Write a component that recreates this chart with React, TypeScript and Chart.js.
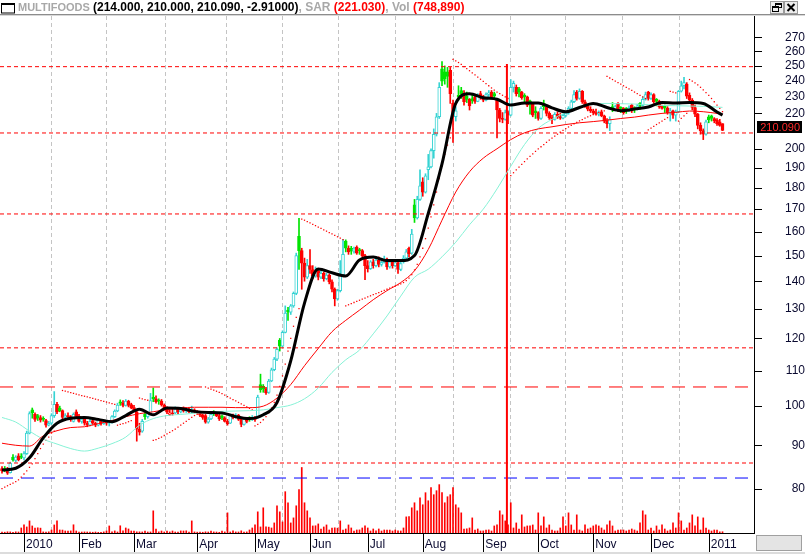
import React, { useEffect, useRef } from 'react';
import { Chart, registerables } from 'chart.js';

Chart.register(...registerables);

// ---------------- data ----------------
const FIRST_DAY = -8; // trading-day index of the first candle (index 0 = first session of 2010)

// [open, high, low, close]
const candles: number[][] = [
  [84.5,85.0,83.5,84.0],[84.5,85.0,83.8,84.2],[84.2,84.8,83.2,83.5],[83.6,86.0,83.5,85.8],[87.2,87.8,86.2,86.5],[86.4,87.5,86.0,87.2],[87.5,88.0,86.3,86.6],[87.4,88.0,86.8,87.1],[87.0,88.5,86.5,88.0],[88.0,93.5,87.8,93.0],
  [93.0,98.5,92.8,98.0],[99.0,99.5,96.8,98.2],[97.8,98.2,96.0,96.5],[97.5,97.8,96.2,96.8],[97.0,97.5,95.8,96.3],[96.8,97.2,96.0,96.5],[96.2,96.5,94.5,95.0],[95.0,96.0,94.8,95.5],[95.5,98.0,95.2,97.5],[97.5,104.0,97.0,100.5],
  [100.5,101.0,98.0,98.5],[99.5,100.0,98.5,98.8],[98.8,99.0,96.5,97.0],[97.0,98.0,96.5,97.5],[97.5,98.2,96.8,97.2],[97.2,97.5,96.0,96.5],[96.0,98.2,95.8,97.8],[98.5,99.0,97.0,97.3],[97.3,97.8,95.8,96.0],[96.0,97.0,95.5,96.6],
  [96.6,96.8,95.0,95.5],[95.5,96.0,94.6,95.0],[95.0,96.5,94.8,96.0],[96.2,96.4,95.2,95.5],[95.5,95.8,94.6,95.0],[95.0,96.5,94.8,96.2],[96.0,96.5,95.0,95.4],[95.4,96.3,95.2,96.0],[96.0,96.2,95.0,95.5],[95.5,96.0,94.8,95.8],
  [95.8,97.5,95.5,97.2],[97.2,99.0,97.0,98.7],[98.7,100.8,98.5,100.3],[101.2,101.7,100.2,100.8],[100.8,101.5,99.8,100.2],[100.2,101.8,100.0,101.4],[101.4,101.6,99.8,100.2],[100.4,100.8,99.3,99.6],[99.6,100.2,98.5,99.0],[98.5,98.8,91.0,94.0],
  [94.0,95.5,92.5,93.2],[93.5,96.5,93.2,96.0],[97.8,98.2,96.5,97.2],[97.2,98.5,96.8,98.2],[98.0,103.5,97.8,101.5],[102.5,105.0,101.2,102.0],[102.0,102.8,100.8,101.2],[101.5,102.0,100.5,101.4],[101.4,101.8,100.0,100.3],[100.3,100.6,99.0,99.4],
  [99.4,99.8,98.0,98.4],[97.8,99.0,97.5,98.2],[98.2,99.2,97.6,97.9],[98.2,99.8,98.0,99.2],[99.2,99.6,98.0,98.5],[98.5,99.5,98.2,99.0],[99.3,99.8,98.4,98.7],[98.7,99.6,98.3,99.2],[99.2,99.4,98.2,98.5],[98.4,100.0,98.2,99.0],
  [99.0,99.3,98.2,98.6],[98.6,98.8,97.8,98.2],[98.2,98.5,97.2,97.6],[97.6,97.9,96.5,97.0],[97.5,97.8,95.5,95.8],[95.8,97.0,95.5,96.6],[96.6,98.2,96.4,97.8],[98.4,98.8,97.5,98.0],[98.0,98.3,97.2,97.5],[97.5,97.8,96.2,96.6],
  [97.4,97.6,96.4,96.9],[96.9,97.2,95.8,96.0],[96.0,96.5,95.0,95.4],[95.5,97.8,95.4,97.5],[97.5,97.9,96.6,97.0],[97.0,98.0,96.8,97.6],[97.6,97.8,96.2,96.5],[96.5,96.8,94.6,95.2],[95.2,96.8,95.0,96.5],[96.5,96.8,95.6,96.0],
  [96.8,97.2,96.0,96.4],[96.4,97.5,96.2,97.0],[97.0,97.2,96.0,96.5],[97.0,103.0,96.8,102.5],[106.0,109.0,103.8,104.5],[105.5,106.0,103.8,104.8],[104.8,105.2,103.2,103.6],[103.8,107.5,103.5,107.0],[107.0,110.8,106.8,110.3],[110.3,114.0,110.0,113.5],
  [113.5,117.0,113.0,116.5],[119.5,120.0,116.0,117.5],[117.5,122.5,117.2,122.0],[122.0,131.0,121.8,128.5],[129.5,130.5,126.0,128.8],[128.8,131.5,128.0,131.0],[131.0,136.0,130.5,135.5],[135.5,151.0,135.0,150.0],[158.0,165.8,144.5,152.0],[152.0,153.0,137.0,147.0],
  [147.0,149.0,140.0,141.5],[141.5,148.5,141.0,146.0],[146.0,152.5,143.0,144.5],[144.5,146.0,141.0,142.0],[142.0,145.5,141.5,144.0],[144.0,144.5,140.5,141.5],[141.5,144.0,141.0,143.0],[143.0,143.5,140.0,141.0],[141.0,143.0,140.5,142.3],[142.3,142.8,139.0,139.8],
  [139.8,140.5,136.0,137.0],[137.0,137.5,131.0,133.5],[133.5,137.0,133.0,136.5],[136.5,148.0,136.0,142.5],[142.5,156.7,142.0,150.5],[156.0,156.5,151.5,153.0],[153.0,154.0,150.5,151.5],[153.0,153.8,150.5,151.8],[151.8,153.5,151.0,152.8],[153.5,154.0,150.5,151.0],
  [152.5,153.0,150.5,152.0],[152.0,152.5,149.5,150.0],[150.0,150.5,140.6,146.0],[146.0,148.0,143.5,144.8],[144.8,148.0,144.5,147.5],[147.5,148.5,145.0,146.0],[146.0,149.0,145.5,148.2],[148.2,149.5,145.5,146.5],[146.5,148.0,145.8,147.3],[147.3,149.8,147.0,148.2],
  [148.2,149.0,144.5,145.5],[145.5,148.0,145.0,147.5],[147.5,148.5,145.0,146.0],[146.0,147.8,145.5,147.2],[147.2,147.5,143.0,144.5],[144.5,147.5,144.0,146.8],[147.5,150.0,147.0,149.0],[149.0,152.5,148.5,151.5],[153.0,153.5,149.5,150.8],[151.0,161.0,150.5,159.0],
  [172.0,174.5,164.0,166.0],[166.0,176.0,165.5,174.5],[174.5,189.0,174.0,181.0],[183.0,185.0,176.0,178.0],[178.0,187.0,177.5,186.0],[189.0,197.0,184.0,190.5],[190.5,200.0,190.0,199.0],[199.0,211.0,195.0,208.0],[208.0,220.0,207.0,218.0],[218.0,239.0,217.0,236.0],
  [248.0,253.0,237.0,240.0],[246.0,250.0,238.0,241.5],[246.0,249.0,236.0,243.0],[247.0,249.0,226.0,232.0],[226.0,228.0,203.5,218.0],[218.0,224.0,215.5,221.5],[231.0,237.0,228.0,230.0],[234.0,236.0,229.0,231.5],[232.0,234.0,225.0,227.0],[230.5,233.0,226.5,228.5],
  [228.5,229.0,222.0,224.5],[229.0,232.0,226.0,227.5],[230.0,231.0,226.0,227.2],[227.2,232.0,227.0,231.0],[232.0,233.5,228.5,230.0],[230.0,231.0,227.0,228.0],[228.0,232.5,227.5,231.5],[231.5,234.0,230.0,232.5],[233.0,234.0,229.0,230.0],[232.0,233.0,229.5,230.5],
  [228.0,229.0,206.0,222.0],[222.0,223.0,215.0,217.0],[217.0,220.5,214.5,216.5],[216.5,222.0,216.0,220.5],[220.5,221.5,214.0,219.0],[219.0,241.0,218.5,236.0],[236.0,240.0,233.0,238.5],[236.0,237.5,230.5,232.0],[235.0,236.0,230.0,233.0],[233.0,233.5,228.5,229.5],
  [231.0,232.0,226.5,230.0],[230.0,230.5,224.0,225.0],[227.5,228.0,219.5,226.0],[226.0,226.5,218.0,219.0],[221.5,224.0,217.0,220.5],[220.5,221.0,216.0,217.0],[217.0,224.0,216.5,223.0],[226.0,228.0,222.0,224.0],[224.0,224.5,218.5,220.0],[220.0,221.0,216.5,217.5],
  [217.5,219.0,214.0,216.5],[216.5,220.5,216.0,219.5],[219.5,221.0,217.0,218.0],[218.0,220.0,216.5,217.2],[217.2,219.5,216.8,218.8],[218.8,221.0,218.0,220.2],[220.2,224.0,219.5,223.0],[223.0,228.0,222.5,227.0],[227.0,234.0,226.5,231.5],[233.0,234.0,228.0,229.0],
  [229.0,235.0,228.5,233.5],[233.5,234.0,226.0,227.0],[227.0,228.0,223.5,224.5],[224.5,225.0,221.5,222.5],[222.5,224.0,220.5,221.5],[221.5,222.5,219.5,220.5],[220.5,222.5,219.0,219.5],[219.5,221.5,218.5,221.0],[221.0,222.0,218.0,218.6],[218.6,219.0,214.5,215.5],
  [215.5,217.0,211.5,214.0],[214.0,218.0,210.0,216.5],[224.0,226.5,221.0,222.5],[222.5,225.0,221.5,224.0],[226.0,226.5,221.0,222.0],[223.5,224.0,220.5,223.0],[223.0,223.5,219.5,220.5],[223.0,223.5,220.0,221.5],[221.5,224.5,221.0,223.5],[225.0,225.5,220.5,221.5],
  [223.5,224.0,220.5,222.5],[222.5,225.5,222.0,224.5],[226.0,226.5,222.5,224.8],[224.8,230.0,224.5,228.5],[228.5,233.0,228.0,231.5],[233.0,233.5,228.0,229.0],[229.0,232.5,228.5,231.5],[231.5,232.0,226.0,227.0],[228.5,229.0,224.5,227.2],[227.2,228.0,223.0,224.0],
  [224.0,225.0,222.5,223.0],[224.5,225.0,220.5,223.2],[223.2,224.0,219.5,220.5],[220.5,223.0,215.5,221.5],[221.5,222.0,217.0,219.0],[219.0,222.0,215.5,221.0],[221.0,234.0,220.5,233.5],[233.5,240.0,233.0,237.0],[237.0,242.5,235.0,239.0],[238.0,239.0,229.0,230.5],
  [231.0,232.5,226.0,228.0],[228.0,229.0,222.0,223.5],[223.5,225.0,218.0,219.5],[219.5,220.0,211.0,213.0],[213.0,214.5,208.0,210.0],[210.0,211.0,205.0,208.0],[208.0,216.0,207.5,215.0],[218.0,219.0,214.5,216.2],[218.5,219.0,215.5,217.0],[217.0,217.5,214.5,215.8],
  [216.0,217.0,213.0,214.0],[215.0,216.5,212.5,213.0],[214.0,214.0,210.0,210.09],
];

// volume, thousands of shares
const volumes: number[] = [
  600,480,720,650,420,700,610,3000,4800,3600,
  7200,4200,3000,3100,2900,650,560,700,1800,4800,
  7300,1800,1750,1200,1150,1250,4900,1200,620,580,
  640,600,560,450,600,420,380,650,1200,4200,
  650,1250,600,4300,1300,3000,2400,1200,1100,700,
  680,620,1200,600,640,13200,2400,700,1200,620,
  1150,640,1200,600,620,1250,1200,1300,600,7200,
  640,500,620,450,700,600,1200,640,580,420,
  1200,650,12000,600,1250,640,620,1300,600,650,
  1800,3000,4800,12600,3600,15000,3700,3500,3000,6000,
  16200,12600,6600,24600,18000,6000,9000,16200,25800,39000,
  18000,13200,9000,4200,4300,5400,2400,3600,4800,1800,
  3000,3100,2900,7200,1800,2400,4800,3000,1200,1800,
  1850,3000,4200,3000,1200,2400,1250,2400,1200,1800,
  1800,1750,1200,1800,1250,1200,3000,9600,9800,15000,
  18000,13200,21000,16800,24000,19200,27000,22800,25200,28800,
  24000,18000,21600,22800,27000,16800,15000,12000,2400,2500,
  3000,9000,1800,2400,1200,1250,1800,1850,1200,4200,
  4800,13200,10800,7200,4800,18000,3000,6000,2400,10800,
  3600,4200,4300,4800,1800,12000,4200,9600,3000,4800,
  1800,1200,1250,3000,9600,4200,12000,4800,1800,10800,
  1800,1200,4800,2400,3000,4200,4800,4200,3000,1800,
  4800,7200,4200,1200,1800,1850,1800,1200,1800,2400,
  1800,1200,6000,13200,10800,1800,3000,1200,4200,1800,
  4800,2400,1200,1800,6000,3000,12000,7200,1800,3000,
  6000,10800,4200,9600,1800,9000,3000,1800,1200,1800,
  1800,700,748.89,
];

// Parabolic SAR: [first trading-day index, consecutive values]
const sarSegments: [number, number[]][] = [
  [-8, [80.1,80.4,80.7,81.0,81.3,81.6,82.0,82.6,83.3,84.0,84.8,85.6,86.8,88.0,89.2,90.3,91.2,92.0,93.0,93.5]],
  [14, [104.3,104.1,103.9,103.7,103.5,103.3,103.1,102.9,102.7,102.5,102.3,102.1,101.9,101.7,101.5,101.3,101.1,100.9,100.7,100.5]],
  [34, [95.0,95.2,95.4,95.6,95.9,96.2]],
  [42, [102.2,102.0,101.8,101.6]],
  [47, [91.2,91.4,91.7,92.0,92.4,92.8,93.2,93.6,94.0,94.5,95.0,95.5,96.0,96.5,97.0,97.5,98.0,98.4]],
  [66, [105.3,105.0,104.7,104.4,104.1,103.8,103.4,103.0,102.6,102.2,101.8,101.4,101.0,100.6,100.2,99.8,99.4,99.0]],
  [84, [94.8,95.2,95.7,96.4,97.2,98.2,99.5,101.0,103.0,105.5,108.5,112.0,116.0,120.0,124.0,127.0,130.0]],
  [101, [165.5,165.0,164.4,163.8,163.2,162.6,162.0,161.4,160.8,160.2,159.6,159.0,158.4,157.8,157.2,156.6]],
  [117, [131.0,131.4,131.8,132.2,132.6,133.0,133.4,133.8,134.2,134.6,135.0,135.4,135.8,136.2,136.6,137.0,137.4,137.8,138.2,138.6,139.0,139.5,140.2,141.2,142.5,144.3,146.5,149.5,153.0,157.0,161.5,166.5,172.0,178.0,184.5,191.0,197.0,202.0,206.0]],
  [156, [254.5,253.5,252.3,251.0,249.6,248.2,246.8,245.4,244.0,242.6,241.2,239.8,238.4,237.0,235.6,234.2,233.0,232.0,231.0,230.0,229.0]],
  [177, [186,187.5,189,190.4,191.8,193.2,194.6,196,197.3,198.6,199.9,201.1,202.3,203.5,204.7,205.8,206.9,208,209.1,210.1,211.1,212.1,213,213.9,214.8,215.6,216.4,217.2,217.9,218.6,219.3,219.9,220.5,221,221.5]],
  [212, [243,242,241,240,239,238,237,236,235,234,233,232,231,230,229]],
  [227, [210.5,211.5,212.5,213.5,214.5,215.5,216.5,217.5]],
  [235, [233.5,233.0,232.5]],
  [238, [215.5,217.0,218.5,220.0]],
  [242, [241,240,238.8,237.5,236,234.4,232.7,230.9,229,227,225,223,221.03]],
];

const maDays = [-8,-3,2,7,12,17,22,27,32,37,42,47,52,57,62,67,72,77,82,87,92,97,102,107,112,117,122,127,132,137,142,147,152,157,162,167,172,177,182,187,192,197,202,207,212,217,222,227,232,237,242,247,252,254];
const maFast = [84.2,84.6,87.0,91.8,95.5,96.8,97.0,96.5,95.9,97.5,99.2,97.7,99.5,99.4,98.6,98.3,98.2,97.2,96.7,97.7,101.0,113.0,132.0,144.7,143.2,142.0,148.2,149.4,148.0,148.0,150.0,168.0,192.0,226.0,232.0,229.5,228.5,225.0,226.3,226.3,223.3,221.0,223.5,226.0,223.5,221.6,222.6,223.8,226.6,226.3,226.5,226.0,220.8,219.0];
const maMid = [90.5,90.0,89.8,92.3,93.6,94.4,94.6,95.4,96.2,97.2,98.0,98.5,99.1,99.5,99.7,99.7,99.7,99.6,99.6,100.0,102.2,106.0,111.5,116.8,122.2,126.0,129.5,133.2,136.5,139.5,144.0,152.5,165.0,178.0,188.0,195.0,200.0,205.0,208.8,211.0,212.2,213.5,214.5,215.2,216.0,217.0,217.8,219.0,220.0,220.6,221.4,221.0,220.0,219.5];
const maSlow = [97.0,95.8,93.5,91.5,90.3,89.2,88.6,89.3,90.4,92.0,95.0,96.7,97.5,97.8,98.1,98.4,98.6,98.7,98.8,99.0,99.6,100.3,102.0,105.0,109.5,113.3,116.3,121.5,127.5,134.5,141.5,144.6,149.5,155.5,163.0,170.0,179.5,190.8,202.3,211.3,216.5,220.7,224.2,225.6,226.0,225.8,225.6,225.2,224.8,224.6,224.4,224.2,223.8,223.6];

// horizontal study lines (price levels)
const levelValues = [249.5, 208.7, 167.8, 117.0, 105.3, 85.8, 82.4];

// vertical marker line
const markerDay = 175.6;
const markerTop = 251.3;

// x axis: month labels and the session index where each month starts
const monthLabels = ['2010','Feb','Mar','Apr','May','Jun','Jul','Aug','Sep','Oct','Nov','Dec','2011'];
const monthDays = [0,20,40,63,84,104,125,145,167,187,207,228,249];

// y axis (logarithmic) ticks and labels
const priceTicks = [75,80,85,90,95,100,105,110,115,120,125,130,135,140,145,150,155,160,165,170,175,180,185,190,195,200,205,210,215,220,225,230,235,240,245,250,255,260,265,270,275,280,285];
const priceLabels = [80,90,100,110,120,130,140,150,160,170,180,190,200,220,230,240,250,260,270];

// header
const headerName = 'MULTIFOODS';
const headerQuote = ['214.000', '210.000', '210.090', '-2.91000'];
const headerSar = '221.030';
const headerVol = '748,890';
const lastPriceText = '210.090';

// ---------------- layout / style constants ----------------
const X_MIN = -8.727;
const X_MAX = 265.45;
const Y_MIN = 71.06;
const Y_MAX = 285.98;
const VOL_MAX = 307800;

const RED = '#ff0000';
const CYAN = '#36d3d3';
const GREEN = '#00e400';
const MA_CYAN = '#86f2d6';

const levelStyles = [
  { color: RED, dash: [4, 3] },
  { color: RED, dash: [4, 3] },
  { color: RED, dash: [4, 3] },
  { color: RED, dash: [4, 3] },
  { color: RED, dash: [13, 8] },
  { color: RED, dash: [4, 3] },
  { color: '#0000ff', dash: [13, 8] },
];

function candleStyle(k: number) {
  const [o, , , c] = candles[k];
  const prev = k > 0 ? candles[k - 1][3] : o;
  const up = c >= prev;
  const hollow = c > o;
  const color = up ? (hollow ? CYAN : GREEN) : RED;
  return { color, fill: hollow ? '#ffffff' : color };
}

const decorPlugin = {
  id: 'decor',
  afterDraw(chart: any) {
    const { ctx, chartArea } = chart;
    const xs = chart.scales.x;
    const ys = chart.scales.y;
    ctx.save();
    ctx.strokeStyle = '#000';
    ctx.lineWidth = 1;
    xs.ticks.forEach((t: any) => {
      const px = Math.round(xs.getPixelForValue(t.value)) + 0.5;
      const isMonth = monthDays.includes(t.value);
      ctx.beginPath();
      ctx.moveTo(px, chartArea.bottom);
      ctx.lineTo(px, chartArea.bottom + (isMonth ? 19 : 6));
      ctx.stroke();
    });
    ys.ticks.forEach((t: any) => {
      const py = Math.round(ys.getPixelForValue(t.value)) + 0.5;
      const major = t.value % 10 === 0;
      ctx.beginPath();
      ctx.moveTo(chartArea.right, py);
      ctx.lineTo(chartArea.right + (major ? 8 : 6), py);
      ctx.stroke();
    });
    const last = candles[candles.length - 1][3];
    const yp = ys.getPixelForValue(last);
    const top = Math.round(yp - 9.5);
    ctx.fillStyle = '#000';
    ctx.fillRect(757, top, 45, 12);
    ctx.fillStyle = '#ff2a2a';
    ctx.font = '11px "Liberation Sans", Arial, sans-serif';
    ctx.textAlign = 'right';
    ctx.textBaseline = 'middle';
    ctx.fillText(lastPriceText, 800, top + 6.5);
    ctx.restore();
  },
};

export default function App() {
  const ref = useRef<HTMLCanvasElement>(null);

  useEffect(() => {
    const canvas = ref.current;
    if (!canvas) return;
    const days = candles.map((_, k) => FIRST_DAY + k);
    const styles = candles.map((_, k) => candleStyle(k));
    const sarPoints = sarSegments.flatMap(([start, vals]) => vals.map((v, k) => ({ x: start + k, y: v })));
    const maLine = (vals: number[]) => maDays.map((d, k) => ({ x: d, y: vals[k] }));

    const weekTicks: number[] = [];
    for (let d = -5; d <= 265; d += 5) weekTicks.push(d);
    const xTickValues = Array.from(new Set([...weekTicks, ...monthDays])).sort((a, b) => a - b);

    const datasets: any[] = [
      {
        type: 'line', label: 'MA fast', data: maLine(maFast), borderColor: '#000000', borderWidth: 3,
        pointRadius: 0, cubicInterpolationMode: 'monotone', order: 0,
      },
      {
        type: 'line', label: 'MA mid', data: maLine(maMid), borderColor: RED, borderWidth: 1,
        pointRadius: 0, cubicInterpolationMode: 'monotone', order: 1,
      },
      {
        type: 'line', label: 'MA slow', data: maLine(maSlow), borderColor: MA_CYAN, borderWidth: 1,
        pointRadius: 0, cubicInterpolationMode: 'monotone', order: 1,
      },
      {
        type: 'line', label: 'SAR', data: sarPoints, showLine: false, pointStyle: 'rect',
        pointRadius: 0.9, pointBorderWidth: 0, pointBackgroundColor: RED, borderColor: RED, borderWidth: 1, order: 2,
      },
      {
        type: 'line', label: 'marker', data: [{ x: markerDay, y: markerTop }, { x: markerDay, y: Y_MIN }],
        borderColor: RED, borderWidth: 2, pointRadius: 0, order: 2,
      },
      ...levelValues.map((v, k) => ({
        type: 'line', label: 'level ' + v, data: [{ x: X_MIN, y: v }, { x: X_MAX, y: v }],
        borderColor: levelStyles[k].color, borderDash: levelStyles[k].dash, borderWidth: 1,
        pointRadius: 0, order: 3,
      })),
      {
        type: 'bar', label: 'body',
        data: candles.map((c, k) => ({ x: days[k], y: [Math.min(c[0], c[3]), Math.max(c[0], c[3])] })),
        backgroundColor: styles.map((s) => s.fill), borderColor: styles.map((s) => s.color),
        borderWidth: 1, borderSkipped: false, barThickness: 3, minBarLength: 1, grouped: false, order: 5,
      },
      {
        type: 'bar', label: 'wick',
        data: candles.map((c, k) => ({ x: days[k], y: [c[2], c[1]] })),
        backgroundColor: styles.map((s) => s.color), borderWidth: 0, barThickness: 1, grouped: false, order: 6,
      },
      {
        type: 'bar', label: 'volume', yAxisID: 'yv',
        data: volumes.map((v, k) => ({ x: days[k], y: v })),
        backgroundColor: RED, borderWidth: 0, barThickness: 1, grouped: false, order: 7,
      },
    ];

    const chart = new Chart(canvas, {
      type: 'bar',
      data: { datasets },
      plugins: [decorPlugin],
      options: {
        animation: false,
        responsive: false,
        devicePixelRatio: 1,
        events: [],
        layout: { autoPadding: false, padding: { top: 16, left: 0, right: 0, bottom: 0 } },
        plugins: { legend: { display: false }, tooltip: { enabled: false }, title: { display: false } },
        scales: {
          x: {
            type: 'linear', min: X_MIN, max: X_MAX, bounds: 'data', offset: false,
            afterBuildTicks: (s: any) => { s.ticks = xTickValues.map((v) => ({ value: v })); },
            afterFit: (s: any) => { s.height = 21; },
            ticks: {
              autoSkip: false, maxRotation: 0, align: 'start', labelOffset: 2, padding: 4,
              color: '#0a0a30', font: { family: '"Liberation Sans", Arial, sans-serif', size: 12 },
              callback: (v: any) => { const k = monthDays.indexOf(Number(v)); return k >= 0 ? monthLabels[k] : null; },
            },
            grid: {
              drawTicks: false, drawOnChartArea: true,
              color: (c: any) => (c.tick && monthDays.includes(c.tick.value) ? '#c4c4c4' : 'rgba(0,0,0,0)'),
              lineWidth: (c: any) => (c.tick && monthDays.includes(c.tick.value) ? 1 : 0),
            },
            border: { color: '#000000', width: 1, dash: [4, 3] },
          },
          y: {
            type: 'logarithmic', position: 'right', min: Y_MIN, max: Y_MAX, bounds: 'data',
            afterBuildTicks: (s: any) => { s.ticks = priceTicks.map((v) => ({ value: v })); },
            afterFit: (s: any) => { s.width = 51; },
            ticks: {
              autoSkip: false, crossAlign: 'far', padding: 0,
              color: '#0a0a30', font: { family: '"Liberation Sans", Arial, sans-serif', size: 12 },
              callback: (v: any) => (priceLabels.includes(Number(v)) ? String(v) : null),
            },
            grid: { drawOnChartArea: false, drawTicks: true, tickLength: 26, tickColor: 'rgba(0,0,0,0)' },
            border: { color: '#000000', width: 1 },
          },
          yv: {
            type: 'linear', display: false, min: 0, max: VOL_MAX, position: 'left',
          },
        },
      } as any,
    });
    return () => chart.destroy();
  }, []);

  const gray = '#a8a8a8';
  return (
    <div style={{ position: 'fixed', left: 0, top: 0, width: 805, height: 554, background: '#ffffff', overflow: 'hidden' }}>
      <canvas ref={ref} width={805} height={554} style={{ position: 'absolute', left: 0, top: 0, width: 805, height: 554 }} />
      <svg style={{ position: 'absolute', left: 1, top: 3 }} width={15} height={11}>
        <rect x={0.5} y={0.5} width={13} height={9.5} fill="#ffffff" stroke="#000000" />
        <rect x={0} y={0} width={14} height={2} fill="#000000" />
      </svg>
      <div style={{ position: 'absolute', left: 18, top: 0, height: 14, lineHeight: '14px', whiteSpace: 'nowrap',
        font: 'bold 12px "Liberation Sans", Arial, sans-serif' }}>
        <span style={{ color: gray, fontSize: 11 }}>{headerName} </span>
        <span style={{ color: '#000000' }}>({headerQuote.join(', ')})</span>
        <span style={{ color: gray }}>, SAR </span>
        <span style={{ color: RED }}>({headerSar})</span>
        <span style={{ color: gray }}>, Vol </span>
        <span style={{ color: RED }}>({headerVol})</span>
      </div>
      <svg style={{ position: 'absolute', left: 770, top: 1 }} width={29} height={14}>
        <rect x={0.5} y={0.5} width={13} height={12} fill="#ececec" stroke="#9a9a9a" />
        <rect x={5.5} y={2.5} width={6} height={4} fill="none" stroke="#000" />
        <rect x={2.5} y={5.5} width={6} height={5} fill="#ececec" stroke="#000" />
        <rect x={2} y={5} width={7} height={2} fill="#000" />
        <rect x={5} y={2} width={7} height={2} fill="#000" />
        <rect x={14.5} y={0.5} width={13} height={12} fill="#ececec" stroke="#9a9a9a" />
        <path d="M17.5 3 L24.5 10 M24.5 3 L17.5 10" stroke="#000" strokeWidth={2} />
      </svg>
      <div style={{ position: 'absolute', left: 0, top: 14, width: 805, height: 1, background: '#8c8c8c' }} />
      <div style={{ position: 'absolute', left: 0, top: 15, width: 805, height: 1, background: '#d8d8d8' }} />
      <div style={{ position: 'absolute', left: 756, top: 535, width: 44, height: 14, background: '#e4e4e4', border: '1px solid #a0a0a0' }} />
      <div style={{ position: 'absolute', left: 0, top: 552, width: 805, height: 2, background: '#dcdcdc' }} />
    </div>
  );
}
